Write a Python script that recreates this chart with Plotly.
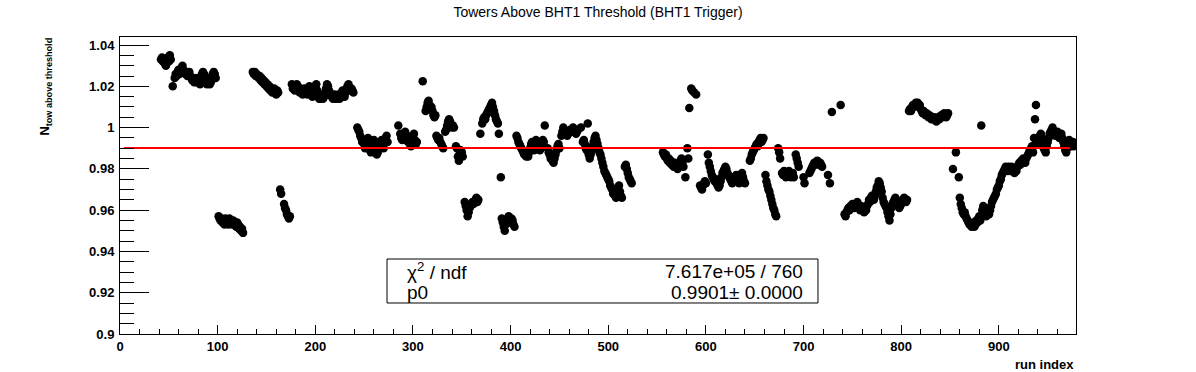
import plotly.graph_objects as go

# ---------------- data ----------------
# each segment: consecutive run indices starting at segment_first_run[k]
segment_first_run = [42, 54, 56, 101, 136, 164, 168, 176, 243, 285, 287, 291, 294, 310, 313,
                     333, 344, 353, 369, 371, 390, 391, 406, 438, 452, 472, 474, 492, 517,
                     556, 579, 581, 585, 588, 590, 594, 602, 645, 661, 674, 678, 692, 700,
                     706, 725, 727, 729, 738, 742, 808, 853, 856, 859, 882, 883, 939]

segment_ratios = [
    [1.033, 1.034, 1.032, 1.033, 1.031, 1.030, 1.033, 1.034, 1.032, 1.035, 1.033],
    [1.020],
    [1.024, 1.026, 1.025, 1.027, 1.028, 1.026, 1.027, 1.029, 1.030, 1.028, 1.027, 1.026, 1.027,
     1.025, 1.026, 1.027, 1.025, 1.024, 1.023, 1.024, 1.022, 1.023, 1.022, 1.024, 1.022, 1.023,
     1.021, 1.024, 1.026, 1.027, 1.026, 1.025, 1.023, 1.021, 1.022, 1.023, 1.021, 1.022, 1.024,
     1.026, 1.027, 1.026, 1.024],
    [0.957, 0.956, 0.955, 0.956, 0.954, 0.955, 0.953, 0.956, 0.954, 0.955, 0.953, 0.956, 0.954,
     0.955, 0.953, 0.955, 0.954, 0.953, 0.952, 0.954, 0.953, 0.951, 0.952, 0.950, 0.951, 0.949],
    [1.027, 1.026, 1.027, 1.025, 1.026, 1.025, 1.024, 1.025, 1.023, 1.024, 1.022, 1.023, 1.021,
     1.022, 1.020, 1.021, 1.019, 1.020, 1.018, 1.019, 1.017, 1.018, 1.019, 1.017, 1.016, 1.018,
     1.017],
    [0.970, 0.968],
    [0.963, 0.961, 0.960, 0.958, 0.957, 0.956, 0.957],
    [1.021, 1.019, 1.020, 1.018, 1.019, 1.021, 1.020, 1.018, 1.017, 1.019, 1.018, 1.016, 1.017,
     1.019, 1.018, 1.017, 1.016, 1.018, 1.020, 1.019, 1.017, 1.015, 1.016, 1.018, 1.020, 1.021,
     1.018, 1.016, 1.014, 1.014, 1.015, 1.016, 1.014, 1.015, 1.017, 1.019, 1.021, 1.020, 1.018,
     1.017, 1.016, 1.015, 1.014, 1.015, 1.016, 1.014, 1.014, 1.015, 1.016, 1.014, 1.015, 1.017,
     1.018, 1.016, 1.015, 1.017, 1.019, 1.020, 1.021, 1.019, 1.018, 1.019, 1.018, 1.017],
    [1.000, 0.999, 0.998, 0.996, 0.995, 0.993, 0.994, 0.992, 0.990, 0.991, 0.993, 0.995, 0.993,
     0.989, 0.988, 0.990, 0.992, 0.994, 0.992, 0.988, 0.987, 0.988, 0.990, 0.991, 0.993, 0.994,
     0.992, 0.990, 0.993, 0.995, 0.996, 0.993],
    [1.001],
    [0.997, 0.995, 0.994],
    [0.996, 0.998],
    [0.996, 0.993, 0.994, 0.992, 0.991, 0.993, 0.995, 0.997, 0.994, 0.992, 0.993],
    [1.0225],
    [1.008, 1.010, 1.012, 1.013, 1.011, 1.009, 1.010, 1.008, 1.006, 1.005, 1.006, 0.996, 0.995,
     0.994, 0.995, 0.993, 0.992, 0.991, 0.990],
    [0.998, 0.999, 1.001, 1.003, 1.004, 1.003, 1.001, 1.000, 1.001, 1.000],
    [0.991, 0.990, 0.986, 0.984, 0.987, 0.989, 0.988, 0.986],
    [0.964, 0.962, 0.960, 0.957, 0.959, 0.961, 0.962, 0.963, 0.964, 0.963, 0.964, 0.965, 0.966,
     0.964, 0.965],
    [0.997],
    [1.002, 1.004, 1.005, 1.004, 1.006, 1.007, 1.008, 1.009, 1.010, 1.011, 1.012, 1.010, 1.008,
     1.006, 1.004, 1.003, 1.002, 0.997],
    [0.976],
    [0.956, 0.954, 0.952, 0.950, 0.953, 0.955, 0.956, 0.957, 0.955, 0.954, 0.956, 0.955, 0.953,
     0.952],
    [0.996, 0.995, 0.993, 0.992, 0.991, 0.990, 0.989, 0.988, 0.987, 0.988, 0.986, 0.987, 0.986,
     0.988, 0.990, 0.992, 0.993, 0.991, 0.989, 0.992, 0.994, 0.993, 0.992, 0.991, 0.989, 0.990,
     0.993, 0.994, 0.993, 1.001],
    [0.990, 0.988, 0.987, 0.985, 0.986, 0.984, 0.983, 0.985, 0.987, 0.989, 0.991, 0.992, 0.990],
    [0.996, 0.998, 1.000, 0.999, 0.998, 0.997, 0.996, 0.997, 0.998, 0.999, 0.998, 0.999, 1.000,
     0.999, 0.998, 0.997, 0.998, 0.999],
    [1.000],
    [0.993, 0.994, 0.992, 0.990, 0.989, 1.002, 0.987, 0.985, 0.987, 0.989, 0.991, 0.993, 0.995,
     0.996, 0.994, 0.992, 0.990, 0.988],
    [0.987, 0.985, 0.983, 0.981, 0.979, 0.978, 0.977, 0.976, 0.975, 0.974, 0.972, 0.971, 0.970,
     0.968, 0.969, 0.967, 0.966, 0.968, 0.970, 0.972, 0.969, 0.967, 0.966],
    [0.981, 0.982, 0.980, 0.978, 0.976, 0.975, 0.974, 0.973],
    [0.988, 0.987, 0.986, 0.987, 0.985, 0.984, 0.985, 0.983, 0.984, 0.982, 0.983, 0.981, 0.983,
     0.982, 0.981, 0.980, 0.982, 0.983, 0.984, 0.985, 0.983, 0.981],
    [0.976],
    [0.990, 0.985, 1.0095],
    [1.019, 1.018],
    [1.017],
    [1.016],
    [0.972, 0.971, 0.970, 0.972, 0.973, 0.974, 0.973],
    [0.987, 0.983, 0.981, 0.979, 0.977, 0.976, 0.975, 0.974, 0.975, 0.973, 0.972, 0.971, 0.972,
     0.974, 0.976, 0.978, 0.979, 0.980, 0.981, 0.980, 0.978, 0.977, 0.976, 0.975, 0.974, 0.973,
     0.974, 0.975, 0.976, 0.977, 0.975, 0.974, 0.973, 0.975, 0.977, 0.978, 0.976, 0.974, 0.973],
    [0.984, 0.985, 0.987, 0.988, 0.989, 0.990, 0.991, 0.992, 0.991, 0.993, 0.994, 0.995, 0.993,
     0.994, 0.995],
    [0.977, 0.974, 0.972, 0.970, 0.969, 0.967, 0.965, 0.963, 0.961, 0.960, 0.958, 0.957],
    [0.990, 0.988, 0.985],
    [0.978, 0.977, 0.979, 0.978, 0.976, 0.977, 0.978, 0.979, 0.977, 0.976, 0.977, 0.978, 0.976],
    [0.987, 0.985, 0.983, 0.981],
    [0.976, 0.973],
    [0.978, 0.979, 0.980, 0.981, 0.982, 0.983, 0.982, 0.983, 0.984, 0.983, 0.982, 0.983, 0.982,
     0.981],
    [0.977],
    [0.973],
    [1.0076],
    [1.011],
    [0.958, 0.957, 0.959, 0.960, 0.961, 0.960, 0.962, 0.961, 0.963, 0.962, 0.961, 0.962, 0.963,
     0.964, 0.962, 0.961, 0.960, 0.962, 0.961, 0.960, 0.959, 0.960, 0.960, 0.962, 0.963, 0.965,
     0.964, 0.966, 0.967, 0.966, 0.965, 0.967, 0.969, 0.971, 0.972, 0.974, 0.973, 0.971, 0.969,
     0.966, 0.964, 0.963, 0.962, 0.961, 0.959, 0.957, 0.955, 0.958, 0.961, 0.963, 0.964, 0.965,
     0.966, 0.965, 0.963, 0.962, 0.961, 0.962, 0.963, 0.964, 0.965, 0.966, 0.965, 0.964, 0.965],
    [1.008, 1.009, 1.008, 1.010, 1.011, 1.010, 1.011, 1.012, 1.011, 1.012, 1.010, 1.011, 1.009,
     1.008, 1.007, 1.008, 1.007, 1.006, 1.007, 1.006, 1.005, 1.006, 1.005, 1.004, 1.005, 1.004,
     1.005, 1.004, 1.003, 1.004, 1.005, 1.004, 1.005, 1.006, 1.005, 1.006, 1.007, 1.006, 1.005,
     1.006, 1.007],
    [0.980],
    [0.988],
    [0.976, 0.966, 0.963, 0.961, 0.959, 0.958, 0.959, 0.957, 0.956, 0.955, 0.954, 0.953, 0.953,
     0.952, 0.953, 0.954, 0.952, 0.953, 0.955, 0.954, 0.956, 0.957, 0.955],
    [1.001],
    [0.960, 0.962, 0.960, 0.958, 0.957, 0.958, 0.959, 0.958, 0.960, 0.962, 0.964, 0.965, 0.966,
     0.967, 0.968, 0.970, 0.971, 0.972, 0.974, 0.975, 0.977, 0.978, 0.979, 0.980, 0.981, 0.980,
     0.979, 0.981, 0.980, 0.979, 0.981, 0.980, 0.979, 0.978, 0.980, 0.979, 0.981, 0.982, 0.983,
     0.982, 0.984, 0.983, 0.985, 0.984, 0.983, 0.985, 0.986, 0.987, 0.988, 0.989, 0.990, 0.991,
     0.988, 0.995, 1.004, 1.011],
    [0.993, 0.995, 0.992, 0.996, 0.997, 0.995, 0.993, 0.990, 0.989, 0.988, 0.991, 0.993, 0.995,
     0.997, 0.998, 0.999, 1.000, 0.998, 0.997, 0.996, 0.997, 0.998, 0.997, 0.995, 0.996, 0.997,
     0.995, 0.993, 0.991, 0.989, 0.988, 0.990, 0.992, 0.994, 0.993, 0.991, 0.992, 0.993, 0.991],
]

fit_p0 = 0.9901
fit_run_range = [4, 973]
chi2_text = "7.617e+05 / 760"
p0_text = "0.9901\u00b1 0.0000"

x_range = [0, 979]
y_range = [0.9, 1.0439]

# ---------------- build ----------------
run_index, ratio = [], []
for start, vals in zip(segment_first_run, segment_ratios):
    for i, v in enumerate(vals):
        run_index.append(start + i)
        ratio.append(v)

FONT = "Liberation Sans, Arial, Helvetica, sans-serif"

fig = go.Figure()
fig.add_trace(go.Scatter(
    x=run_index, y=ratio, mode="markers",
    marker=dict(symbol="circle", size=8.5, color="black", line=dict(width=0)),
    showlegend=False, hoverinfo="x+y"))
fig.add_trace(go.Scatter(
    x=fit_run_range, y=[fit_p0, fit_p0], mode="lines",
    line=dict(color="#ff0000", width=2), showlegend=False, hoverinfo="skip"))

axis_common = dict(showgrid=False, zeroline=False, showline=True, mirror=True,
                   linecolor="black", linewidth=1, ticks="inside", tickcolor="black",
                   tickwidth=1)

fig.update_layout(
    width=1196, height=372, autosize=False,
    paper_bgcolor="white", plot_bgcolor="white",
    margin=dict(l=120, r=120, t=37, b=38),
    title=dict(text="Towers Above BHT1 Threshold (BHT1 Trigger)",
               x=0.5, xref="container", xanchor="center",
               y=1 - 12 / 372, yref="container", yanchor="middle",
               font=dict(family=FONT, size=14, color="black")),
    xaxis=dict(range=x_range, tick0=0, dtick=100, ticklen=9,
               minor=dict(dtick=20, ticklen=5, ticks="inside", tickcolor="black"),
               tickfont=dict(family=FONT, size=13, color="black", weight="bold"),
               **axis_common),
    yaxis=dict(range=y_range, tick0=0.9, dtick=0.02, ticklen=29,
               minor=dict(dtick=0.005, ticklen=14, ticks="inside", tickcolor="black"),
               tickfont=dict(family=FONT, size=13, color="black", weight="bold"),
               ticklabelstandoff=2,
               **axis_common),
)

# axis titles
fig.add_annotation(text="run index", xref="paper", yref="paper", x=1.0, y=-0.104,
                   xanchor="right", yanchor="middle", showarrow=False,
                   font=dict(family=FONT, size=13, color="black", weight="bold"))
fig.add_annotation(text="N<sub>tow above threshold</sub>", xref="paper", yref="paper",
                   x=-0.0774, y=0.833, xanchor="center", yanchor="middle", textangle=-90,
                   showarrow=False,
                   font=dict(family=FONT, size=13, color="black", weight="bold"))

# stats box
fig.add_shape(type="rect", xref="paper", yref="paper", x0=0.2793, x1=0.7301,
              y0=0.1044, y1=0.2525, line=dict(color="black", width=1), fillcolor="white",
              layer="above")
fig.add_annotation(text="\u03c7<sup>2</sup> / ndf", xref="paper", yref="paper", x=0.2981,
                   y=0.2121, xanchor="left", yanchor="middle", showarrow=False,
                   font=dict(family=FONT, size=19, color="black"))
fig.add_annotation(text=chi2_text, xref="paper", yref="paper", x=0.7165, y=0.2121,
                   xanchor="right", yanchor="middle", showarrow=False,
                   font=dict(family=FONT, size=19, color="black"))
fig.add_annotation(text="p0", xref="paper", yref="paper", x=0.2981, y=0.1414,
                   xanchor="left", yanchor="middle", showarrow=False,
                   font=dict(family=FONT, size=19, color="black"))
fig.add_annotation(text=p0_text, xref="paper", yref="paper", x=0.7165, y=0.1414,
                   xanchor="right", yanchor="middle", showarrow=False,
                   font=dict(family=FONT, size=19, color="black"))

fig.write_html("out.html", config={"displayModeBar": False},
               post_script="document.body.style.margin='0px';document.body.style.padding='0px';")
